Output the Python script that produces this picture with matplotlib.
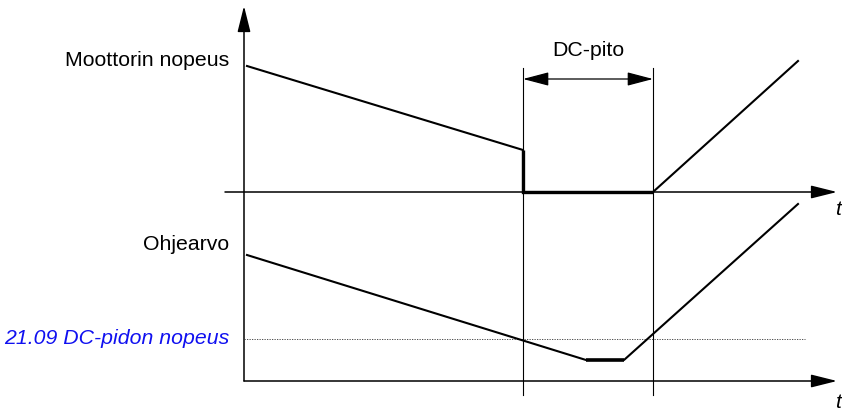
import matplotlib.pyplot as plt
from matplotlib.patches import FancyArrowPatch

plt.rcParams['font.family'] = ['Liberation Sans', 'DejaVu Sans']

# time in arbitrary units, 0 = vertical axis
motor_t = [3, 279, 279, 409, 554]
motor_speed = [126, 42, 0, 0, 131]
dc_start, dc_end = 279, 409          # DC-pito interval
ref_t = [3, 342, 380, 554]
ref_speed = [126, 21, 21, 177]
dc_speed = 42                        # 21.09 DC-pidon nopeus

label_top = "Moottorin nopeus"
label_bot = "Ohjearvo"
label_dc = "21.09 DC-pidon nopeus"
label_hold = "DC-pito"

fs = 15.3

fig = plt.figure(figsize=(8.42, 4.13), dpi=100)
ax_top = fig.add_axes([0, 0, 1, 1])
ax_bot = fig.add_axes([0, 0, 1, 1])
for ax in (ax_top, ax_bot):
    ax.set_xlim(-244, 598)
    ax.axis('off')
    ax.patch.set_alpha(0)
ax_top.set_ylim(-221, 192)
ax_bot.set_ylim(-32, 381)


def arrow(ax, p0, p1, style='-|>', lw=1.1):
    a = FancyArrowPatch(p0, p1, arrowstyle=f'{style},head_length=16,head_width=4',
                        mutation_scale=1, lw=lw, color='black',
                        shrinkA=0, shrinkB=0, clip_on=False)
    ax.add_patch(a)


# axes of the diagram
arrow(ax_top, (-19, 0), (593, 0))
arrow(ax_top, (0, -189), (0, 186))
arrow(ax_bot, (0, 0), (593, 0))

# DC hold markers
for t in (dc_start, dc_end):
    ax_top.plot([t, t], [-203, 124], color='black', lw=0.8)
a = FancyArrowPatch((dc_start, 113), (dc_end, 113),
                    arrowstyle='<|-|>,head_length=16,head_width=4.2',
                    mutation_scale=1, lw=0.9, color='black', shrinkA=0, shrinkB=0)
ax_top.add_patch(a)
ax_top.text((dc_start + dc_end) / 2, 142, label_hold, ha='center', va='center', fontsize=fs)

# motor speed
ax_top.plot(motor_t, motor_speed, color='black', lw=1.5, solid_joinstyle='miter')
ax_top.plot(motor_t[1:4], motor_speed[1:4], color='black', lw=2.4,
            solid_capstyle='butt', solid_joinstyle='miter')

# reference
ax_bot.plot([0, 561], [dc_speed, dc_speed], color='#333333', lw=0.6, ls=(0, (1.5, 1.5)))
ax_bot.plot(ref_t, ref_speed, color='black', lw=1.5)
ax_bot.plot(ref_t[1:3], ref_speed[1:3], color='black', lw=2.6, solid_capstyle='butt')

# labels
ax_top.text(-15, 132, label_top, ha='right', va='center', fontsize=fs)
ax_bot.text(-15, 136, label_bot, ha='right', va='center', fontsize=fs)
ax_bot.text(-15, dc_speed, label_dc, ha='right', va='center', fontsize=fs,
            color='#1010f0', style='italic')
ax_top.text(591, -23, 't', ha='left', va='baseline', fontsize=fs, style='italic')
ax_bot.text(591, -31, 't', ha='left', va='bottom', fontsize=fs, style='italic')

fig.savefig('out.png', dpi=100)
